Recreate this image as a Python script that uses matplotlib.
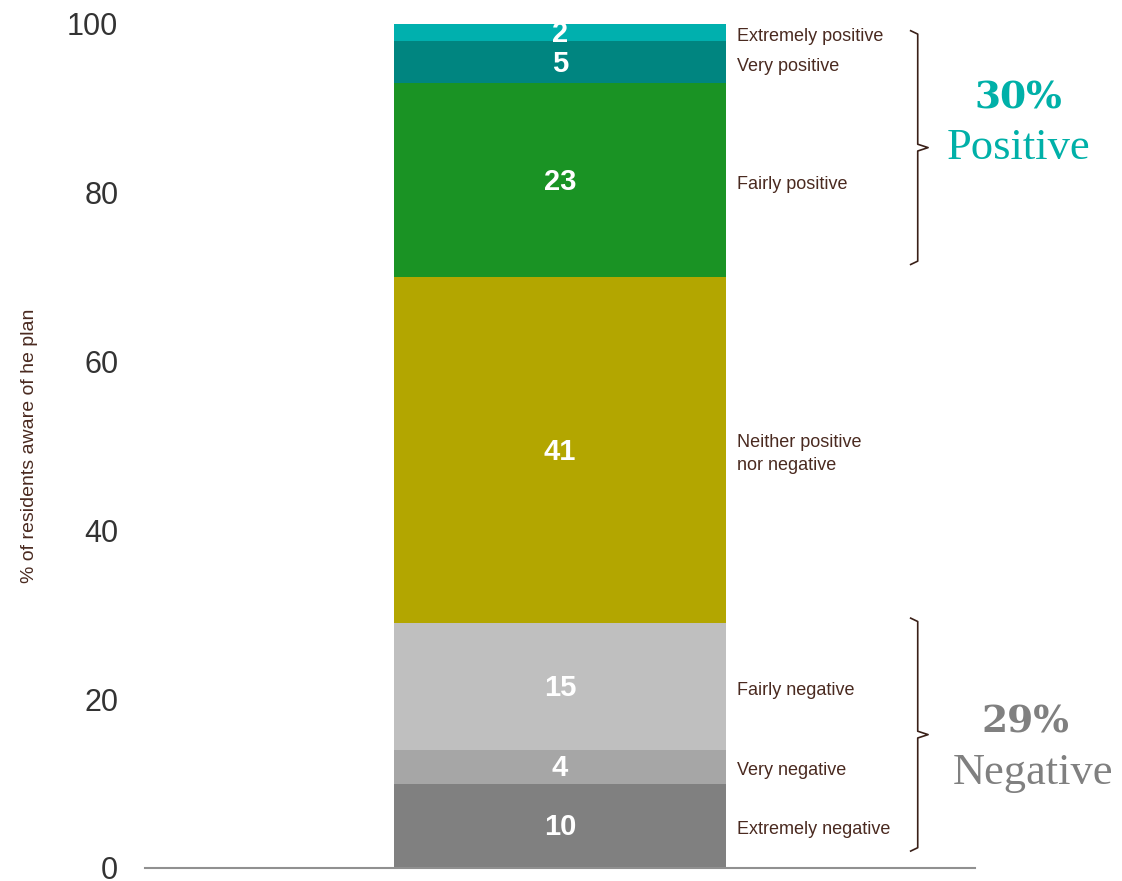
import matplotlib
matplotlib.use("Agg")
import matplotlib.pyplot as plt

# opinion of the plan, stacked bottom to top
labels = ["Extremely negative", "Very negative", "Fairly negative",
          "Neither positive\nnor negative", "Fairly positive",
          "Very positive", "Extremely positive"]
values = [10, 4, 15, 41, 23, 5, 2]
colors = ["#808080", "#a6a6a6", "#bfbfbf", "#b3a600",
          "#1a9324", "#008580", "#00b0ae"]

pos_total = "30%"
neg_total = "29%"
yticks = [0, 20, 40, 60, 80, 100]

fig = plt.figure(figsize=(11.22, 8.81), dpi=100)
ax = fig.add_axes([0.129, 0.0148, 0.74, 0.958])

bottom = 0
centers = []
for v, c in zip(values, colors):
    ax.bar(0, v, width=0.8, bottom=bottom, color=c)
    centers.append(bottom + v / 2)
    bottom += v

for v, yc in zip(values, centers):
    ax.text(0, yc - 0.2, str(v), ha="center", va="center", color="white",
            fontsize=21, fontweight="bold", family="Liberation Sans")

brown = "#4a2a20"
for lab, yc in zip(labels, centers):
    ax.text(0.427, yc - 0.5, lab, ha="left", va="center", color=brown,
            fontsize=13, family="Liberation Sans", linespacing=1.45)

# brackets grouping positive and negative answers
def bracket(y0, y1):
    ym = (y0 + y1) / 2
    xs = [0.845, 0.862, 0.862, 0.887, 0.862, 0.862, 0.845]
    ys = [y1, y1 - 0.4, ym + 0.4, ym, ym - 0.4, y0 + 0.4, y0]
    ax.plot(xs, ys, color="#3a2018", lw=1.2, clip_on=False)

bracket(71.5, 99.2)
bracket(2, 29.6)

teal = "#00b0a8"
grey = "#808080"
ax.text(1.105, 91.2, pos_total, ha="center", va="center", color=teal,
        fontsize=27, fontweight="bold", family="DejaVu Serif", clip_on=False)
ax.text(1.105, 85.3, "Positive", ha="center", va="center", color=teal,
        fontsize=32, family="Liberation Serif", clip_on=False)
ax.text(1.122, 17.3, neg_total, ha="center", va="center", color=grey,
        fontsize=27, fontweight="bold", family="DejaVu Serif", clip_on=False)
ax.text(1.139, 11.2, "Negative", ha="center", va="center", color=grey,
        fontsize=32, family="Liberation Serif", clip_on=False)

ax.set_xlim(-1, 1)
ax.set_ylim(0, 100)
ax.set_yticks(yticks)
ax.set_yticklabels([str(t) for t in yticks], fontsize=22,
                   family="Liberation Sans", color="#333333")
ax.tick_params(axis="y", length=0, pad=19)
ax.set_xticks([])
for s in ["left", "right", "top"]:
    ax.spines[s].set_visible(False)
ax.spines["bottom"].set_color("#909090")
ax.spines["bottom"].set_linewidth(1.5)

ax.set_ylabel("% of residents aware of he plan", fontsize=14, color=brown,
              family="Liberation Sans")
ax.yaxis.set_label_coords(-0.128, 0.5)

fig.savefig("out.png", dpi=100)
